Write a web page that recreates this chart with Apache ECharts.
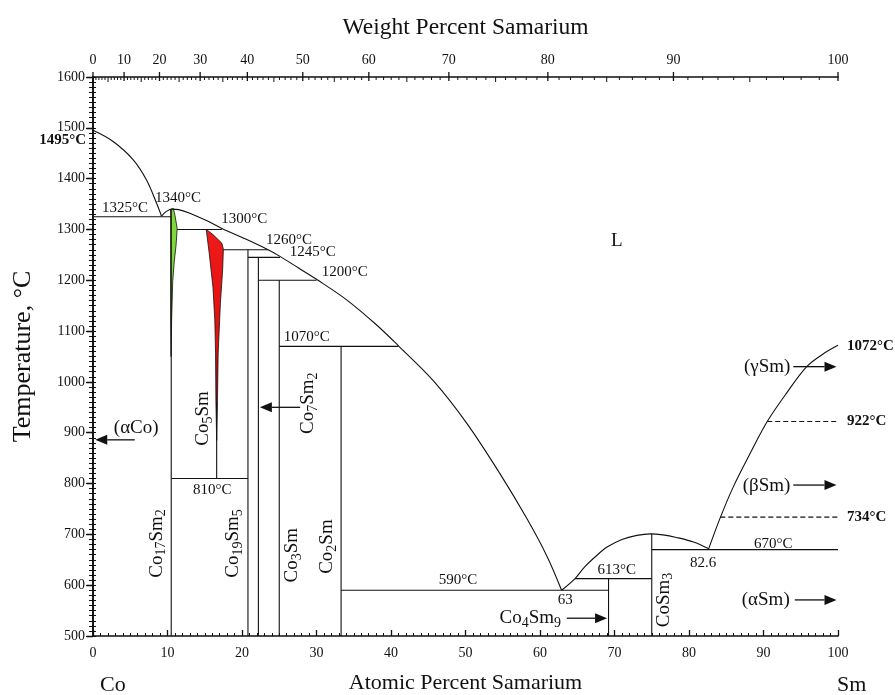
<!DOCTYPE html>
<html><head><meta charset="utf-8">
<script src="https://cdn.jsdelivr.net/npm/echarts@6/dist/echarts.min.js"></script>
<style>html,body{margin:0;padding:0;background:#fff}#c{width:895px;height:695px}</style>
</head><body><div id="c"></div>
<script>
// ---------- data (atomic % Sm, temperature °C) ----------
const weightTickLabels = [0,10,20,30,40,50,60,70,80,90,100];
const liquidusCo = [[0,1495],[2.7,1473],[5.4,1437],[7.2,1397],[8.55,1351],[9.2,1326]];
const liquidusMain = [[9.2,1326],[9.8,1335],[10.6,1340],[11.5,1339],[13.0,1332],[15.3,1317],[17.3,1302],[20.5,1281],[23.5,1260],[25.1,1247],[27.5,1225],[30.0,1202],[34,1162],[38,1113],[41,1071],[45.7,1002],[50.2,918],[54.6,820],[58.2,732],[60.9,658],[62.9,590]];
const liquidusCoSm3 = [[62.9,590],[64.7,613],[66,636],[67.5,657],[69,675],[71,690],[73,698],[74.8,701],[76.5,699],[78.3,694],[80.6,685],[82.6,672]];
const liquidusSm = [[82.6,670],[84.2,733],[85.9,792],[88.2,859],[90.5,922],[93.1,978],[95.8,1030],[98,1055],[100,1072]];
const solidLines = [
  [0,1325,10.45,1325],[11.3,1300,17.3,1300],[17.5,1260,23.5,1260],[20.8,1245,25.1,1245],
  [22.2,1200,30.0,1200],[25.0,1070,41.0,1070],[10.5,810,20.8,810],[33.3,590,69.2,590],
  [64.7,613,75,613],[75,670,100,670],
  [10.5,1340,10.5,500],[16.6,960,16.6,810],[20.8,1260,20.8,500],[22.2,1245,22.2,500],
  [25.0,1200,25.0,500],[33.3,1070,33.3,500],[69.2,613,69.2,500],[75,701,75,500]
];
const dashedLines = [[90.5,922,100,922],[84.2,734,100,734]];
const arrows = [[5.6,886,0.3,886],[27.8,950,22.4,950],[63.6,535,69.0,535],[94.2,571,99.8,571],[94.0,797,99.8,797],[94.0,1030,99.8,1030]];
const co17sm2Region = [[10.42,1340],[10.8,1341],[11.0,1328],[11.3,1302],[11.15,1269],[10.9,1236],[10.7,1197],[10.55,1120],[10.48,1050],[10.42,1120],[10.42,1250]];
const co5smRegion = [[15.2,1300],[16.1,1290],[17.3,1273],[17.5,1261],[17.4,1220],[17.1,1155],[16.8,1056],[16.7,958],[16.6,885],[16.5,958],[16.45,1056],[16.35,1122],[16.1,1187],[15.6,1253]];

// ---------- labels / layout ----------
const F = 'Liberation Serif, Times New Roman, serif';
const annotations = [
  {text:'1325°C', x:4.3, y:1342}, {text:'1340°C', x:11.4, y:1362}, {text:'1300°C', x:20.3, y:1321},
  {text:'1260°C', x:26.3, y:1279}, {text:'1245°C', x:29.5, y:1256}, {text:'1200°C', x:33.8, y:1216},
  {text:'1070°C', x:28.7, y:1088}, {text:'810°C', x:16.0, y:787}, {text:'590°C', x:49, y:610},
  {text:'63', x:63.4, y:571}, {text:'613°C', x:70.3, y:630}, {text:'82.6', x:81.9, y:644},
  {text:'670°C', x:91.3, y:681},
  {text:'L', x:70.3, y:1277, size:19},
  {text:'(αCo)', x:5.8, y:909, size:19}, {text:'(γSm)', x:90.5, y:1029, size:19},
  {text:'(βSm)', x:90.4, y:795, size:19}, {text:'(αSm)', x:90.3, y:571, size:19},
  {text:'{n|Co}{s|5}{n|Sm}', x:14.8, y:928, rot:true},
  {text:'{n|Co}{s|7}{n|Sm}{s|2}', x:28.9, y:958, rot:true},
  {text:'{n|Co}{s|17}{n|Sm}{s|2}', x:8.55, y:682, rot:true},
  {text:'{n|Co}{s|19}{n|Sm}{s|5}', x:18.8, y:682, rot:true},
  {text:'{n|Co}{s|3}{n|Sm}', x:26.7, y:659, rot:true},
  {text:'{n|Co}{s|2}{n|Sm}', x:31.4, y:676, rot:true},
  {text:'{n|CoSm}{s|3}', x:76.6, y:571, rot:true},
  {text:'{n|Co}{s|4}{n|Sm}{s|9}', x:58.7, y:535, rich:true},
  {text:'1495°C', x:0, y:1476, bold:true, align:'right', dx:-7},
  {text:'1072°C', x:100, y:1071, bold:true, align:'left', dx:9},
  {text:'922°C', x:100, y:922, bold:true, align:'left', dx:9},
  {text:'734°C', x:100, y:733, bold:true, align:'left', dx:9}
];

function wtToAt(w){ const a=w/150.36, b=(100-w)/58.933; return w>=100?100:100*a/(a+b); }
const topTicks = [];
for (let w=0; w<=100; w++) topTicks.push([wtToAt(w), 1600, w]);

const rich = {
  n:{fontFamily:F, fontSize:19, lineHeight:24, verticalAlign:'middle', fill:'#111'},
  s:{fontFamily:F, fontSize:14, lineHeight:12, verticalAlign:'bottom', fill:'#111'}
};

const chart = echarts.init(document.getElementById('c'));
const black = '#111';
function segSeries(data, dash){
  return {type:'custom', coordinateSystem:'cartesian2d', data, encode:{x:[0,2], y:[1,3]}, silent:true, z:3,
    renderItem(p, api){
      const a=api.coord([api.value(0),api.value(1)]), b=api.coord([api.value(2),api.value(3)]);
      return {type:'line', shape:{x1:a[0],y1:a[1],x2:b[0],y2:b[1]}, style:{stroke:black, lineWidth:1.1, lineDash:dash||null}};
    }};
}
function polySeries(region, fill){
  return {type:'custom', coordinateSystem:'cartesian2d', data:region, encode:{x:0,y:1}, silent:true, z:2,
    renderItem(p, api){
      if (p.dataIndex!==0) return null;
      return {type:'polygon', shape:{points: region.map(pt=>api.coord(pt))}, style:{fill, stroke:black, lineWidth:0.8}};
    }};
}
function curve(data){
  return {type:'line', data, showSymbol:false, smooth:0.35, silent:true, z:3, lineStyle:{color:black, width:1.1}};
}

const option = {
  animation:false,
  grid:{left:93, right:57, top:77, bottom:59, containLabel:false, outerBoundsMode:'none'},
  xAxis:[
    {type:'value', position:'bottom', min:0, max:100, interval:10,
     name:'Atomic Percent Samarium', nameLocation:'middle', nameGap:36,
     nameTextStyle:{fontFamily:F, fontSize:22, color:black},
     axisLine:{show:true, lineStyle:{color:black, width:1.6}},
     axisTick:{show:true, inside:true, length:6, lineStyle:{color:black, width:1.3}},
     minorTick:{show:true, splitNumber:10, length:3, lineStyle:{color:black, width:1}},
     axisLabel:{margin:10, fontFamily:F, fontSize:14, color:black},
     splitLine:{show:false}},
    {type:'value', position:'top', min:0, max:100,
     name:'Weight Percent Samarium', nameLocation:'middle', nameGap:37,
     nameTextStyle:{fontFamily:F, fontSize:23.5, color:black},
     axisLine:{show:true, lineStyle:{color:black, width:1.6}},
     axisTick:{show:false}, axisLabel:{show:false}, splitLine:{show:false}}
  ],
  yAxis:[
    {type:'value', position:'left', min:500, max:1600, interval:100,
     name:'Temperature, °C', nameLocation:'middle', nameGap:57,
     nameTextStyle:{fontFamily:F, fontSize:26, color:black},
     axisLine:{show:true, lineStyle:{color:black, width:1.6}},
     axisTick:{show:true, inside:false, length:6, lineStyle:{color:black, width:1.3}},
     axisLabel:{margin:8, fontFamily:F, fontSize:14, color:black, formatter: v => String(v)},
     splitLine:{show:false}},
    {type:'value', position:'right', min:500, max:1600, interval:100,
     axisLine:{show:true, lineStyle:{color:black, width:1.6}},
     axisTick:{show:true, inside:true, length:7, lineStyle:{color:black, width:1.3}},
     minorTick:{show:true, splitNumber:10, length:4, lineStyle:{color:black, width:1}},
     axisLabel:{show:false}, splitLine:{show:false}},
    {type:'value', position:'left', min:500, max:1600, interval:10,
     axisLine:{show:false},
     axisTick:{show:true, inside:true, length:3, lineStyle:{color:black, width:1}},
     axisLabel:{show:false}, splitLine:{show:false}}
  ],
  graphic:[
    {type:'text', left:100, top:674, style:{text:'Co', font:'22px '+F, fill:black}},
    {type:'text', left:837, top:674, style:{text:'Sm', font:'22px '+F, fill:black}}
  ],
  series:[
    polySeries(co17sm2Region, '#80d83a'),
    polySeries(co5smRegion, new echarts.graphic.LinearGradient(0,0,0,1,[{offset:0,color:'#f01a1a'},{offset:0.55,color:'#e01010'},{offset:1,color:'#3a0000'}])),
    curve(liquidusCo), curve(liquidusMain), curve(liquidusCoSm3), curve(liquidusSm),
    segSeries(solidLines), segSeries(dashedLines,[5,3]),
    {type:'custom', coordinateSystem:'cartesian2d', data:arrows, encode:{x:[0,2], y:[1,3]}, silent:true, z:4,
     renderItem(p, api){
       const a=api.coord([api.value(0),api.value(1)]), b=api.coord([api.value(2),api.value(3)]);
       const dir = Math.sign(b[0]-a[0]); const L=12, W=5;
       return {type:'group', children:[
         {type:'line', shape:{x1:a[0],y1:a[1],x2:b[0]-dir*L,y2:b[1]}, style:{stroke:black, lineWidth:1.3}},
         {type:'polygon', shape:{points:[[b[0],b[1]],[b[0]-dir*L,b[1]-W],[b[0]-dir*L,b[1]+W]]}, style:{fill:black}}
       ]};
     }},
    {type:'custom', coordinateSystem:'cartesian2d', data:topTicks, encode:{x:0,y:1}, silent:true, z:5,
     renderItem(p, api){
       const w = api.value(2); const c = api.coord([api.value(0), 1600]);
       const major = w%10===0, mid = w%5===0;
       const ch = [{type:'line', shape:{x1:c[0], y1:c[1]-(major?5:0), x2:c[0], y2:c[1]+(major?4:(mid?5:3))}, style:{stroke:black, lineWidth: major?1.3:1}}];
       if (major && weightTickLabels.indexOf(w)>=0) ch.push({type:'text', x:c[0], y:c[1]-10, style:{text:String(w), font:'14px '+F, fill:black, align:'center', verticalAlign:'bottom'}});
       return {type:'group', children:ch};
     }},
    {type:'custom', coordinateSystem:'cartesian2d', data:annotations.map(a=>[a.x,a.y]), encode:{x:0,y:1}, silent:true, z:6,
     renderItem(p, api){
       const a = annotations[p.dataIndex]; const c = api.coord([a.x, a.y]);
       const isRich = a.rot || a.rich;
       const style = {text:a.text, fill:black, align:a.align||'center', verticalAlign:'middle',
         font:(a.bold?'bold ':'')+(a.size||15)+'px '+F};
       if (isRich) style.rich = rich;
       return {type:'text', x:c[0]+(a.dx||0), y:c[1], rotation: a.rot?Math.PI/2:0, style};
     }}
  ]
};
chart.setOption(option);
</script></body></html>
